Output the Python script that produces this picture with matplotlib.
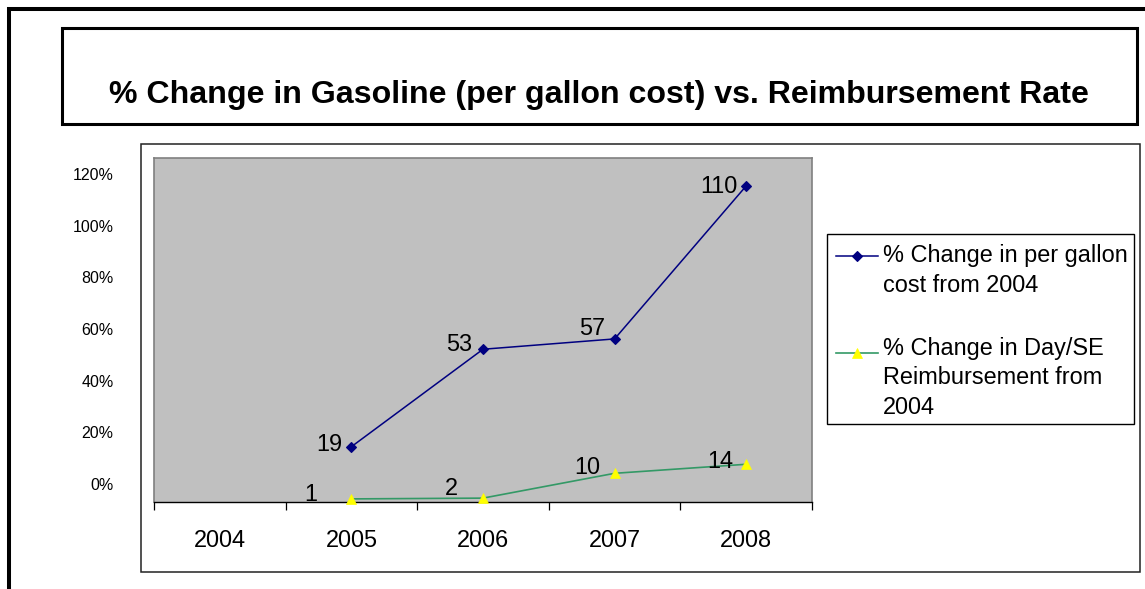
import matplotlib
matplotlib.use('Agg')
import matplotlib.pyplot as plt
from matplotlib.patches import Rectangle
from matplotlib.lines import Line2D

# ---- data ----
years = ['2004', '2005', '2006', '2007', '2008']
series_x = [1, 2, 3, 4]
gas_pct = [14.5, 52.2, 56.2, 115.4]
gas_labels = ['19', '53', '57', '110']
reimb_pct = [-5.7, -5.4, 4.2, 7.7]
reimb_labels = ['1', '2', '10', '14']
yticks = [0, 20, 40, 60, 80, 100, 120]
title = '% Change in Gasoline (per gallon cost) vs. Reimbursement Rate'
legend_labels = ['% Change in per gallon\ncost from 2004',
                 '% Change in Day/SE\nReimbursement from\n2004']

# ---- style / layout ----
gas_label_off = [(-9, -4), (-11, -1.4), (-9.7, 4), (-8.4, -7.3)]
reimb_label_off = [(-33.7, -2), (-25, 2.7), (-14, -0.7), (-13, -4)]
NAVY = '#000080'
GREEN = '#339966'
YELLOW = '#FFFF00'
FS = 16.9

plt.rcParams['font.family'] = ['Liberation Sans', 'DejaVu Sans']

W, H = 1145, 589
fig = plt.figure(figsize=(W / 100, H / 100), dpi=100)


def fx(x):
    return x / W


def fy(y):
    return 1 - y / H


tf = fig.transFigure

# outer thick frame (top and left)
fig.add_artist(Line2D([fx(7), fx(1145)], [fy(9), fy(9)], lw=2.9, color='black',
                      transform=tf, solid_capstyle='butt'))
fig.add_artist(Line2D([fx(9), fx(9)], [fy(7), fy(589)], lw=2.9, color='black',
                      transform=tf, solid_capstyle='butt'))

# title box
fig.add_artist(Rectangle((fx(61.5), fy(123.5)), fx(1137) - fx(61.5), fy(27.5) - fy(123.5),
                         fill=False, lw=2.2, ec='black', transform=tf))
fig.text(fx(599), fy(103.3), title, ha='center', va='baseline',
         fontsize=23.1, fontweight='bold')

# chart area box
fig.add_artist(Rectangle((fx(140.5), fy(572)), fx(1140) - fx(140.5), fy(143.5) - fy(572),
                         fill=False, lw=1.1, ec='#222222', transform=tf))

# plot area
ax = fig.add_axes([fx(154), fy(502), fx(812) - fx(154), fy(158) - fy(502)])
ax.set_facecolor('#C0C0C0')
for s in ['left', 'top', 'right']:
    ax.spines[s].set_color('#808080')
    ax.spines[s].set_linewidth(1.2)
ax.spines['bottom'].set_color('black')
ax.spines['bottom'].set_linewidth(1.0)

ax.set_xlim(-0.5, len(years) - 0.5)
ax.set_ylim(-6.9, 126.2)

ax.set_xticks([i - 0.5 for i in range(len(years) + 1)])
ax.set_xticklabels([])
ax.set_xticks(range(len(years)), minor=True)
ax.set_xticklabels(years, minor=True, fontsize=FS)
ax.tick_params(axis='x', which='major', length=6, width=0.9, color='black', direction='out')
ax.tick_params(axis='x', which='minor', length=0, pad=19.5)

ax.set_yticks(yticks)
ax.set_yticklabels([f'{v}%' for v in yticks], fontsize=11.5)
ax.tick_params(axis='y', length=0, pad=29.2)

ax.plot(series_x, gas_pct, color=NAVY, lw=1.1, marker='D', ms=5.2, mfc=NAVY, mec=NAVY,
        mew=0.8, clip_on=False, zorder=4)
ax.plot(series_x, reimb_pct, color=GREEN, lw=1.2, marker='^', ms=7.8, mfc=YELLOW, mec=YELLOW,
        mew=0.5, clip_on=False, zorder=3)

for x, y, lab, off in zip(series_x, gas_pct, gas_labels, gas_label_off):
    ax.annotate(lab, (x, y), xytext=off, textcoords='offset pixels', ha='right',
                va='baseline', fontsize=FS, annotation_clip=False, zorder=5)
for x, y, lab, off in zip(series_x, reimb_pct, reimb_labels, reimb_label_off):
    ax.annotate(lab, (x, y), xytext=off, textcoords='offset pixels', ha='right',
                va='baseline', fontsize=FS, annotation_clip=False, zorder=5)

# legend (drawn manually to mimic the spreadsheet layout)
fig.add_artist(Rectangle((fx(827), fy(424)), fx(1134) - fx(827), fy(234) - fy(424),
                         fill=False, lw=1.0, ec='black', transform=tf))
leg_styles = [
    dict(color=NAVY, marker='D', ms=5.2, mfc=NAVY, mec=NAVY, mew=0.8, lw=1.1),
    dict(color=GREEN, marker='^', ms=7.8, mfc=YELLOW, mec=YELLOW, mew=0.5, lw=1.2),
]
leg_handle_y = [256, 352.7]
leg_text_last_baseline = [291.7, 414.3]
for lab, st, hy, ty in zip(legend_labels, leg_styles, leg_handle_y, leg_text_last_baseline):
    fig.add_artist(Line2D([fx(836), fx(878)], [fy(hy), fy(hy)], color=st['color'],
                          lw=st['lw'], transform=tf))
    fig.add_artist(Line2D([fx(857)], [fy(hy)], linestyle='none', marker=st['marker'],
                          ms=st['ms'], mfc=st['mfc'], mec=st['mec'], mew=st['mew'],
                          transform=tf))
    fig.text(fx(883), fy(ty), lab, ha='left', va='baseline', fontsize=FS,
             linespacing=1.38)

fig.savefig('out.png', dpi=100)
